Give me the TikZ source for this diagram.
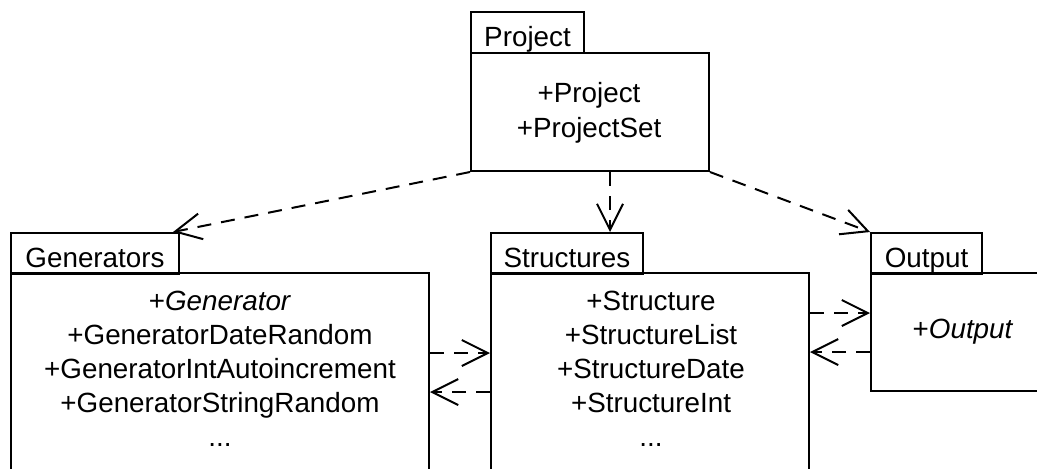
\documentclass[tikz,border=0pt]{standalone}
\usepackage{fontspec}
\setmainfont{Liberation Sans}
\usetikzlibrary{arrows.meta}
\newcommand\umlfont{\fontsize{13.9pt}{17pt}\selectfont}
\begin{document}
\begin{tikzpicture}[x=0.5pt,y=-0.5pt,
  every node/.style={font=\umlfont},
  pkgtab/.style={draw, line width=1pt, anchor=north west, inner sep=0pt,
                 text height=17pt, text depth=3.5pt, minimum height=20.5pt},
  pkgbody/.style={draw, line width=1pt, anchor=north west, inner sep=0pt},
  entry/.style={anchor=base, inner sep=0pt},
  dep/.style={draw, line width=1pt, dash pattern=on 7pt off 5pt,
              -{Straight Barb[length=13pt,width=13pt]}}]
\useasboundingbox (0,0) rectangle (1037,468);

% package Project
\node[pkgbody, minimum width=119pt, minimum height=59pt] (pb) at (470,52) {};
\node[pkgtab, minimum width=56.5pt] (pt) at (470,11) {Project};
\node[entry] (p1) at (589,102) {+Project};
\node[entry] (p2) at (589,137) {+ProjectSet};

% package Generators
\node[pkgbody, minimum width=209pt, minimum height=115pt] (gb) at (10,272) {};
\node[pkgtab, minimum width=84pt] (gt) at (10,232) {Generators};
\node[entry] (g1) at (220,310) {+\textit{Generator}};
\node[entry] (g2) at (220,344) {+GeneratorDateRandom};
\node[entry] (g3) at (220,378) {+GeneratorIntAutoincrement};
\node[entry] (g4) at (220,412) {+GeneratorStringRandom};
\node[entry] (g5) at (220,446) {...};

% package Structures
\node[pkgbody, minimum width=159pt, minimum height=115pt] (sb) at (490,272) {};
\node[pkgtab, minimum width=76pt] (st) at (490,232) {Structures};
\node[entry] (s1) at (651,310) {+Structure};
\node[entry] (s2) at (651,344) {+StructureList};
\node[entry] (s3) at (651,378) {+StructureDate};
\node[entry] (s4) at (651,412) {+StructureInt};
\node[entry] (s5) at (651,446) {...};

% package Output
\node[pkgbody, minimum width=95pt, minimum height=59pt] (ob) at (870,272) {};
\node[pkgtab, minimum width=55.5pt] (ot) at (870,232) {Output};
\node[entry] (o1) at (963,338) {+\textit{Output}};

% dependency levels
\coordinate (ps) at (610,232);
\coordinate (gs) at (0,353);
\coordinate (sg) at (0,392);
\coordinate (so) at (0,313);
\coordinate (os) at (0,352);

% dependencies
\draw[dep] (pb.south west) -- ([xshift=-3.5pt]gt.north east);
\draw[dep] (ps |- pb.south) -- (ps);
\draw[dep] (pb.south east) -- (ot.north west);
\draw[dep] (gs -| gb.east) -- (gs -| sb.west);
\draw[dep] (sg -| sb.west) -- (sg -| gb.east);
\draw[dep] (so -| sb.east) -- (so -| ob.west);
\draw[dep] (os -| ob.west) -- (os -| sb.east);
\end{tikzpicture}
\end{document}
